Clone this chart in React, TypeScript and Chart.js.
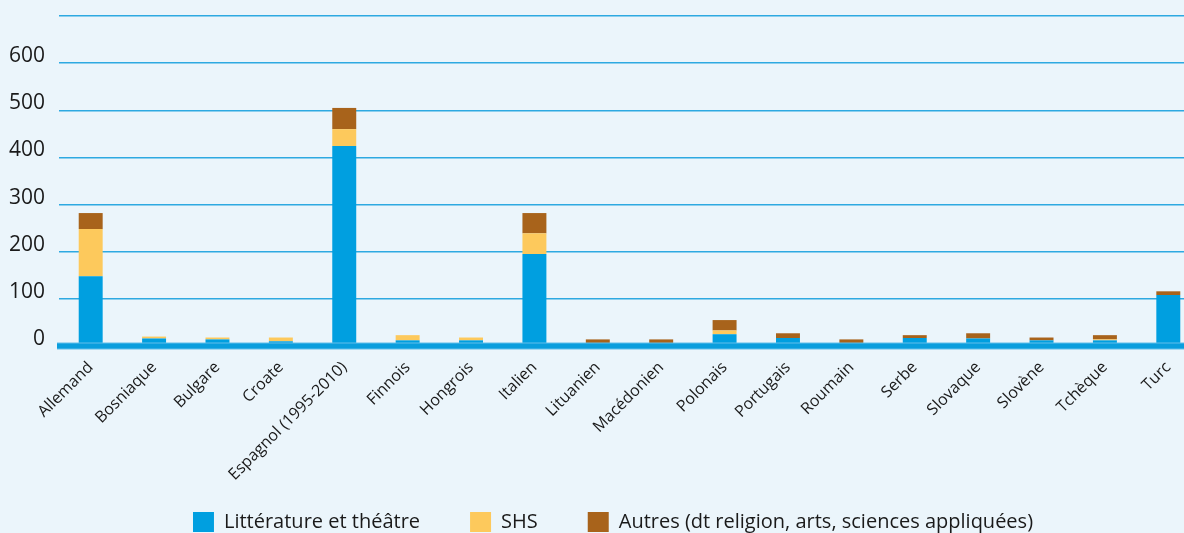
import React, { useEffect, useRef } from 'react';
import { Chart, registerables } from 'chart.js';

Chart.register(...registerables);

const categories = [
  'Allemand', 'Bosniaque', 'Bulgare', 'Croate', 'Espagnol (1995-2010)', 'Finnois',
  'Hongrois', 'Italien', 'Lituanien', 'Macédonien', 'Polonais', 'Portugais',
  'Roumain', 'Serbe', 'Slovaque', 'Slovène', 'Tchèque', 'Turc',
];
const litterature = [148, 16, 14, 10, 424, 12, 12, 195, 0, 0, 25, 17, 0, 17, 16, 12, 12, 108];
const shs = [100, 4, 4, 8, 36, 11, 6, 44, 0, 0, 8, 0, 0, 0, 0, 0, 2, 0];
const autres = [34, 0, 0, 0, 45, 0, 0, 43, 14, 14, 22, 10, 14, 6, 11, 6, 9, 8];
const seriesLabels = ['Littérature et théâtre', 'SHS', 'Autres (dt religion, arts, sciences appliquées)'];
const yMax = 700;
const yStep = 100;

const FONT = '"Open Sans", "Noto Sans", sans-serif';

const baseBand = {
  id: 'baseBand',
  afterDatasetsDraw(chart: any) {
    const { ctx, chartArea, scales } = chart;
    const y0 = scales.y.getPixelForValue(0);
    ctx.save();
    ctx.fillStyle = '#62BFEA';
    ctx.fillRect(chartArea.left - 2, y0 - 3.5, chart.width - chartArea.left, 7);
    ctx.fillStyle = '#0A9EDD';
    ctx.fillRect(chartArea.left - 2, y0 - 2.5, chart.width - chartArea.left, 5);
    ctx.restore();
  },
};

function noClip(scale: any) {
  scale._computeLabelArea = () => undefined;
}

export default function App() {
  const ref = useRef<HTMLCanvasElement | null>(null);
  useEffect(() => {
    if (!ref.current) return;
    const chart = new Chart(ref.current, {
      type: 'bar',
      data: {
        labels: categories,
        datasets: [
          { label: seriesLabels[0], data: litterature, backgroundColor: '#009FE0' },
          { label: seriesLabels[1], data: shs, backgroundColor: '#FDC95C' },
          { label: seriesLabels[2], data: autres, backgroundColor: '#A8631B' },
        ],
      },
      plugins: [baseBand],
      options: {
        animation: false,
        responsive: true,
        maintainAspectRatio: false,
        devicePixelRatio: 1,
        layout: { padding: { top: 16, right: 28, bottom: 18, left: 26 } },
        datasets: { bar: { categoryPercentage: 1, barPercentage: 0.378, borderWidth: 0 } },
        scales: {
          x: {
            stacked: true,
            grid: { display: false },
            border: { display: false },
            ticks: {
              autoSkip: false,
              minRotation: 45,
              maxRotation: 45,
              padding: 4,
              color: '#1a1a1a',
              font: { family: FONT, size: 16 },
            },
            afterFit(scale: any) {
              scale.height = 116;
              scale.paddingLeft = 0;
              scale.paddingRight = 0;
              noClip(scale);
            },
          },
          y: {
            stacked: true,
            min: 0,
            max: yMax,
            border: { display: false },
            grid: {
              drawTicks: false,
              color: (c: any) => (c.tick && c.tick.value === 0 ? 'rgba(0,0,0,0)' : '#2EA9E1'),
              lineWidth: 1.5,
            },
            ticks: {
              stepSize: yStep,
              padding: 14,
              labelOffset: -7,
              color: '#1a1a1a',
              font: { family: FONT, size: 21 },
              callback: (v: any) => (v === yMax ? '' : String(v)),
            },
            afterFit(scale: any) {
              scale.width = 33;
              scale.paddingTop = 0;
              scale.paddingBottom = 0;
              noClip(scale);
            },
          },
        },
        plugins: {
          legend: {
            position: 'bottom',
            labels: {
              boxWidth: 21,
              boxHeight: 20,
              padding: 50,
              color: '#1a1a1a',
              font: { family: FONT, size: 20 },
            },
          },
          tooltip: { enabled: false },
        },
      },
    });
    return () => chart.destroy();
  }, []);
  return (
    <div style={{ position: 'fixed', left: 0, top: 0, width: 1228, height: 560, background: '#EBF5FB' }}>
      <canvas ref={ref} />
    </div>
  );
}
